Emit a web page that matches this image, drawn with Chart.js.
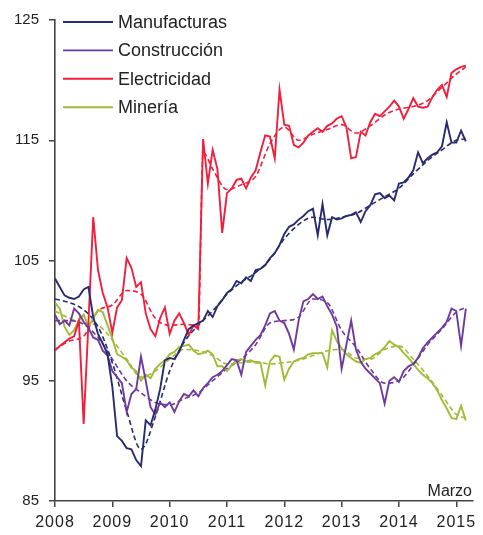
<!DOCTYPE html>
<html><head><meta charset="utf-8">
<script src="https://cdn.jsdelivr.net/npm/chart.js@4.4.1/dist/chart.umd.min.js"></script>
<style>html,body{margin:0;padding:0;background:#fff}#wrap{width:483px;height:535px;position:relative}</style>
</head><body><div id="wrap"><canvas id="c" width="483" height="535"></canvas></div>
<script>
// ---- data (monthly, Jan 2008 .. Mar 2015) ----
const yearLabels = ['2008','2009','2010','2011','2012','2013','2014','2015'];
const yearTickMonths = [0,12,24,36,48,60,72,84];
const yTicks = [85,95,105,115,125];
const seriesNames = ['Manufacturas','Construcción','Electricidad','Minería'];
const lastLabel = 'Marzo';

const manufacturas = [103.5,102.8,102.1,101.9,101.8,102.0,102.6,102.8,100.3,98.9,98.1,97.2,
  94.5,90.4,90.0,89.4,89.3,88.4,87.9,91.7,91.3,92.6,94.3,96.7,
  96.9,96.8,97.4,98.4,99.3,99.6,99.8,100.0,100.8,100.3,101.2,101.7,
  102.3,102.6,103.3,103.1,103.6,103.3,104.2,104.3,104.6,105.2,105.6,106.3,
  107.2,107.8,108.0,108.4,108.7,109.1,109.3,107.1,109.7,107.1,108.6,108.4,
  108.5,108.7,108.8,109.0,108.2,109.1,109.6,110.5,110.6,110.2,110.4,110.0,
  111.4,111.5,111.9,112.5,114.0,113.1,113.5,113.8,114.0,114.5,116.5,114.8,
  114.8,115.8,114.9];
const construccion = [100.5,99.7,100.0,99.6,101.0,100.6,99.9,99.4,98.6,98.4,97.5,97.1,
  95.8,95.3,94.8,92.4,93.9,94.3,97.0,95.0,92.8,92.2,93.2,92.8,
  93.2,92.4,93.3,93.9,93.7,94.2,93.7,94.4,94.8,95.3,95.5,95.8,
  96.3,96.8,96.7,95.5,97.4,97.9,98.4,98.8,99.6,100.6,100.8,100.0,
  99.8,98.9,97.6,100.0,101.6,101.8,102.2,101.8,102.0,101.2,100.5,99.5,
  96.0,98.0,100.0,97.6,96.6,96.0,95.6,95.2,94.8,93.1,95.0,95.3,
  94.9,95.8,96.2,96.4,96.9,97.7,98.2,98.6,99.0,99.4,99.9,101.0,
  100.8,97.9,101.0];
const electricidad = [97.5,97.9,98.2,98.5,98.7,100.0,91.4,99.8,108.6,104.2,102.3,101.1,
  99.0,101.1,101.7,105.2,104.4,102.8,103.2,100.6,99.3,98.7,100.2,101.1,
  98.9,100.0,100.6,99.8,98.8,99.6,99.3,115.1,111.4,114.2,112.6,107.3,
  110.6,111.0,111.7,111.8,111.0,111.9,112.5,114.0,115.4,115.3,113.5,119.2,
  116.3,116.2,114.6,114.4,114.8,115.4,115.7,116.0,115.7,116.2,116.4,116.8,
  117.0,116.1,113.5,113.6,115.7,115.4,116.5,117.2,117.0,117.4,117.8,118.3,
  117.8,116.8,117.6,118.5,117.8,117.7,117.8,118.6,119.2,119.6,118.6,120.6,
  120.9,121.1,121.2];
const mineria = [101.5,101.0,99.5,98.8,99.2,100.0,100.5,99.5,100.2,100.9,100.7,99.6,
  98.5,97.2,97.0,96.7,96.1,95.8,95.0,95.5,95.2,96.0,96.4,96.7,
  97.2,97.4,97.8,97.9,98.0,97.5,97.2,97.3,97.5,97.2,96.2,96.2,
  95.8,96.3,96.7,96.8,96.6,96.7,96.5,96.5,94.6,96.6,97.1,97.0,
  95.1,96.0,96.6,96.8,96.9,97.2,97.3,97.3,97.3,96.1,99.2,98.3,
  97.7,97.2,96.9,96.6,96.5,96.8,96.9,97.2,97.4,97.8,98.3,98.0,
  97.8,97.3,96.9,96.4,95.9,95.5,95.2,94.8,94.2,93.4,92.7,91.9,
  91.8,92.9,91.7];

// trend (dashed) lines, read at quarterly months
const trendMonths = [0,3,6,9,12,15,18,21,24,27,30,33,36,39,42,45,48,51,54,57,60,63,66,69,72,75,78,81,84,86];
const manufTrend = [101.8,101.5,100.9,99.5,96.5,92.5,89.3,92.0,95.8,98.2,99.6,100.8,102.2,103.2,104.0,105.1,106.8,108.0,108.6,108.4,108.6,108.9,109.6,110.3,111.0,112.2,113.3,114.2,115.0,115.1];
const constrTrend = [100.0,100.0,99.7,98.6,96.8,95.0,94.0,93.2,93.0,93.5,94.0,95.0,96.0,96.8,98.0,99.8,100.0,100.3,101.8,101.5,99.2,97.8,96.0,94.8,95.0,96.3,98.0,99.3,100.7,101.1];
const elecTrendMonths = [0,3,6,9,12,15,18,21,24,27,30,31,33,36,39,42,45,48,51,54,57,60,63,66,69,72,75,78,81,84,86];
const elecTrend = [97.6,98.3,98.7,100.8,101.3,102.5,102.2,100.2,99.6,99.7,99.6,114.0,112.6,110.9,111.3,112.0,114.7,116.1,115.0,115.5,115.9,116.3,115.6,116.2,117.1,117.6,117.8,118.3,119.4,120.5,121.1];
const mineriaTrend = [100.8,100.2,99.8,99.6,98.4,96.8,95.3,95.8,96.8,97.6,97.5,97.1,96.4,96.5,96.6,96.4,96.5,96.7,97.1,97.5,97.6,96.9,96.8,97.6,97.9,96.8,95.4,93.8,92.2,91.9];

const colors = ['#282b70','#6e3a9e','#ef1f3d','#a0bb38'];

// ---- build ----
const toXY = (vals, months) => vals.map((v,i)=>({x: months ? months[i] : i, y: v}));
const solid = [manufacturas, construccion, electricidad, mineria];
const trends = [[manufTrend,trendMonths],[constrTrend,trendMonths],[elecTrend,elecTrendMonths],[mineriaTrend,trendMonths]];

const datasets = [];
solid.forEach((vals,i)=>datasets.push({
  label: seriesNames[i], data: toXY(vals), borderColor: colors[i], borderWidth: 1.9,
  pointRadius: 0, tension: 0, fill: false
}));
trends.forEach((t,i)=>datasets.push({
  label: seriesNames[i]+' tendencia', data: toXY(t[0], t[1]), borderColor: colors[i], borderWidth: 1.6,
  borderDash: [5,3], pointRadius: 0, cubicInterpolationMode: 'monotone', fill: false
}));

Chart.defaults.font.family = "'Liberation Sans', Arial, sans-serif";
Chart.defaults.color = '#222';

const overlay = {
  id: 'overlay',
  beforeDraw(chart) {
    const xs = chart.scales.x;
    if (xs && !xs._spaced) {
      const orig = xs.drawLabels;
      xs.drawLabels = function(ca) {
        const c = this.ctx; c.save(); c.letterSpacing = '1px'; orig.call(this, ca); c.restore();
      };
      xs._spaced = true;
    }
  },
  afterDraw(chart) {
    const ctx = chart.ctx;
    ctx.save();
    ctx.font = "18px 'Liberation Sans', Arial, sans-serif";
    ctx.textBaseline = 'middle';
    ctx.textAlign = 'left';
    seriesNames.forEach((name,i)=>{
      const y = 22 + i*28.4;
      ctx.strokeStyle = colors[i]; ctx.lineWidth = 1.9;
      ctx.beginPath(); ctx.moveTo(63,y); ctx.lineTo(113,y); ctx.stroke();
      ctx.fillStyle = '#222';
      ctx.fillText(name, 118, y+1);
    });
    ctx.font = "16px 'Liberation Sans', Arial, sans-serif";
    ctx.textAlign = 'right';
    ctx.textBaseline = 'alphabetic';
    ctx.fillText(lastLabel, chart.chartArea.right - 1, chart.chartArea.bottom - 5);
    ctx.restore();
  }
};

new Chart(document.getElementById('c'), {
  type: 'line',
  data: { datasets },
  options: {
    responsive: false, animation: false, devicePixelRatio: 1,
    layout: { padding: { top: 20, right: 10, left: 0, bottom: 0 } },
    plugins: { legend: { display: false }, tooltip: { enabled: false } },
    scales: {
      x: {
        type: 'linear', min: 0, max: 87.5,
        afterBuildTicks: s => { s.ticks = yearTickMonths.map(v=>({value:v})); },
        ticks: { callback: (v,i) => yearLabels[i], font: { size: 16 }, color: '#222', padding: 6, maxRotation: 0, autoSkip: false },
        grid: { drawOnChartArea: false, drawTicks: true, tickLength: 6, color: '#444', lineWidth: 1.5 },
        border: { color: '#444', width: 1.6 },
        afterFit: s => { s.height = 34; }
      },
      y: {
        min: 85, max: 125,
        afterBuildTicks: s => { s.ticks = yTicks.map(v=>({value:v})); },
        ticks: { font: { size: 15 }, color: '#222', padding: 10 },
        grid: { drawOnChartArea: false, drawTicks: true, tickLength: 6, color: '#444', lineWidth: 1.5 },
        border: { color: '#444', width: 1.6 },
        afterFit: s => { s.width = 55; }
      }
    }
  },
  plugins: [overlay]
});
</script></body></html>
